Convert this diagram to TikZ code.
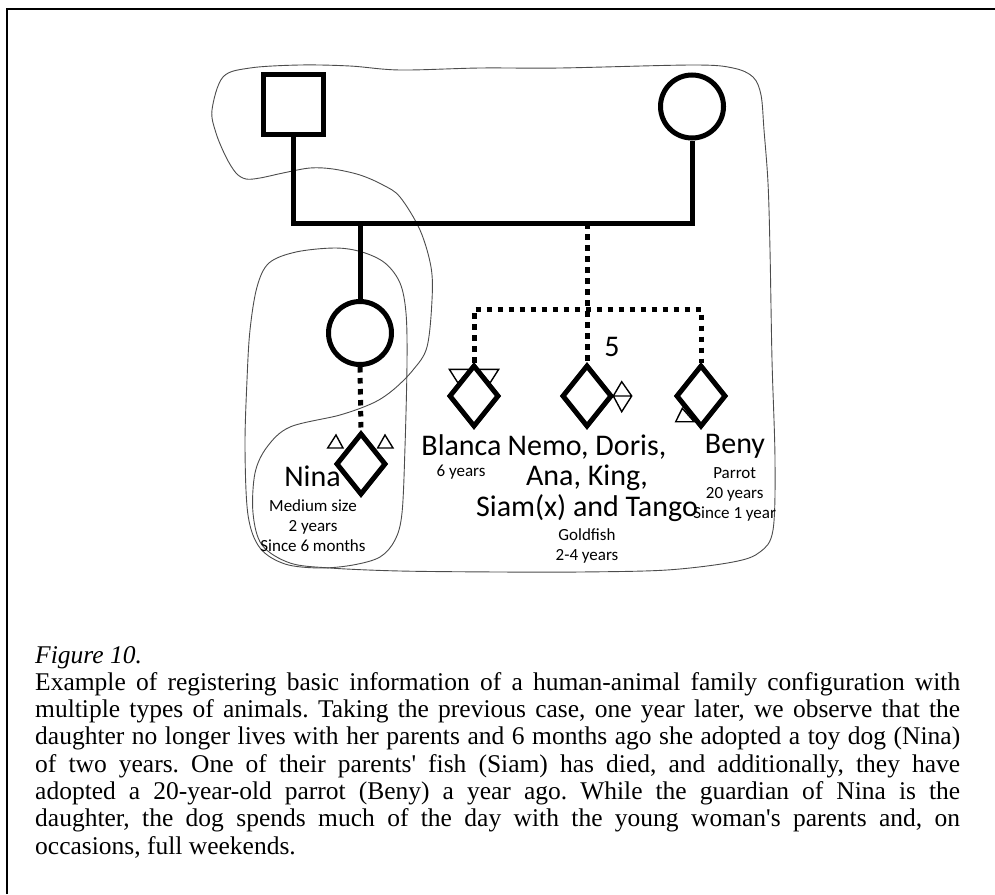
\documentclass[tikz,border=0pt]{standalone}
\usepackage{fontspec}
\setmainfont{Liberation Serif}
\newfontfamily\calib{Carlito}
\usetikzlibrary{shapes.geometric}
\frenchspacing

\begin{document}
\begin{tikzpicture}[x=1pt,y=-1pt,
  kin/.style={line width=5pt},
  pet/.style={line width=5pt,dash pattern=on 5.5pt off 5.5pt},
  male/.style={draw,rectangle,line width=5pt,minimum size=60pt,inner sep=0pt},
  female/.style={draw,circle,line width=5pt,minimum size=63pt,inner sep=0pt},
  animal/.style={draw,diamond,line width=5pt,minimum width=50pt,minimum height=62pt,inner sep=0pt},
  feature/.style={line width=1.4pt,line join=miter},
  hull/.style={draw=black!70,line width=0.9pt},
  petname/.style={font=\calib\fontsize{30}{30.5}\selectfont,align=flush center,text width=240pt,inner sep=0pt,anchor=base},
  petinfo/.style={font=\calib\fontsize{17}{20}\selectfont,align=flush center,text width=160pt,inner sep=0pt,anchor=base},
  caption/.style={font=\fontsize{25.5}{27.3}\selectfont,text width=925pt,align=justify,inner sep=0pt,anchor=base west}]
  \useasboundingbox (0,0) rectangle (995,894);
  \draw[line width=2pt] (7,894) -- (7,9) -- (995,9);

  \draw[hull] plot[smooth cycle,tension=0.55] coordinates {(212,110) (223,77) (250,68) (300,65) (350,66)
    (400,70) (480,68) (560,68) (693,65) (733,68) (753,77) (761,95) (764,130) (768,183) (770,250)
    (772,360) (775,460) (773,530) (760,552) (733,562) (667,570) (580,572) (500,572) (400,571)
    (330,568) (290,563) (262,545) (253,513) (255,473) (267,447) (290,427) (340,415) (373,403)
    (393,390) (413,370) (427,347) (432,300) (431,267) (420,230) (400,197) (383,185) (360,175)
    (333,169) (310,168) (283,173) (260,178) (246,179) (236,173) (226,157) (216,133)};
  \draw[hull] plot[smooth cycle,tension=0.55] coordinates {(257,287) (269,263) (296,252) (335,248)
    (362,252) (385,263) (400,283) (406,313) (407,363) (405,447) (402,513) (395,540) (380,557)
    (353,565) (320,568) (285,564) (260,548) (248,515) (245,447) (247,380) (250,330)};

  \node[male] (father) at (293.5,104.5) {};
  \node[female] (mother) at (692,106.5) {};
  \coordinate (union) at (492,223);
  \node[female] (daughter) at (360,333) {};
  \coordinate (sibs) at (587,309);
  \node[animal] (blanca) at (474,396) {};
  \node[animal] (fish) at (587,396) {};
  \node[animal] (beny) at (701,396) {};
  \node[animal] (nina) at (361,464) {};

  \draw[kin] (father.south) -- (father.south |- union) -- (mother.south |- union) -- (mother.south);
  \draw[kin] (daughter.north |- union) -- (daughter.north);
  \draw[pet] (fish.north |- union) -- (fish.north);
  \draw[pet] (blanca.north) -- (blanca.north |- sibs) -- (beny.north |- sibs) -- (beny.north);
  \draw[pet] (daughter.south) -- (nina.north);

  \draw[feature] (449.3,369.3) -- (470,369.3) -- (458,383) -- cycle;
  \draw[feature] (498.7,369.3) -- (478,369.3) -- (490,383) -- cycle;
  \draw[feature] (327.7,448) -- (336,435) -- (343,448) -- cycle;
  \draw[feature] (377.7,448) -- (385,435) -- (393,448) -- cycle;
  \draw[feature] (613.3,396) -- (621.7,381.7) -- (631.7,396) -- (621.7,411.7) -- cycle (613.3,396) -- (631.7,396);
  \draw[feature] (675.7,421.7) -- (682.3,408.3) -- (694,421.7) -- cycle;

  \node[petname] (five) at (612,356.7) {5};
  \node[petname] (lnina) at (312.5,486.7) {Nina};
  \node[petinfo] (inina) at (313,511.7) {Medium size\\2 years\\Since 6 months};
  \node[petname] (lblanca) at (461.5,455) {Blanca};
  \node[petinfo] (iblanca) at (461,476.7) {6 years};
  \node[petname] (lfish) at (587,455) {Nemo, Doris,\\Ana, King,\\Siam(x) and Tango};
  \node[petinfo] (ifish) at (587,540) {Goldfish\\2-4 years};
  \node[petname] (lbeny) at (735,453.3) {Beny};
  \node[petinfo] (ibeny) at (734.7,478.3) {Parrot\\20 years\\Since 1 year};

  \node[caption] (cap) at (35,663) {\textit{Figure 10.}\\Example of registering basic information of a human-animal family configuration with\linebreak
    multiple types of animals. Taking the previous case, one year later, we observe that the\linebreak
    daughter no longer lives with her parents and 6 months ago she adopted a toy dog (Nina)\linebreak
    of two years. One of their parents\textquotesingle{} fish (Siam) has died, and additionally, they have\linebreak
    adopted a 20-year-old parrot (Beny) a year ago. While the guardian of Nina is the\linebreak
    daughter, the dog spends much of the day with the young woman\textquotesingle s parents and, on\linebreak
    occasions, full weekends.};
\end{tikzpicture}
\end{document}
